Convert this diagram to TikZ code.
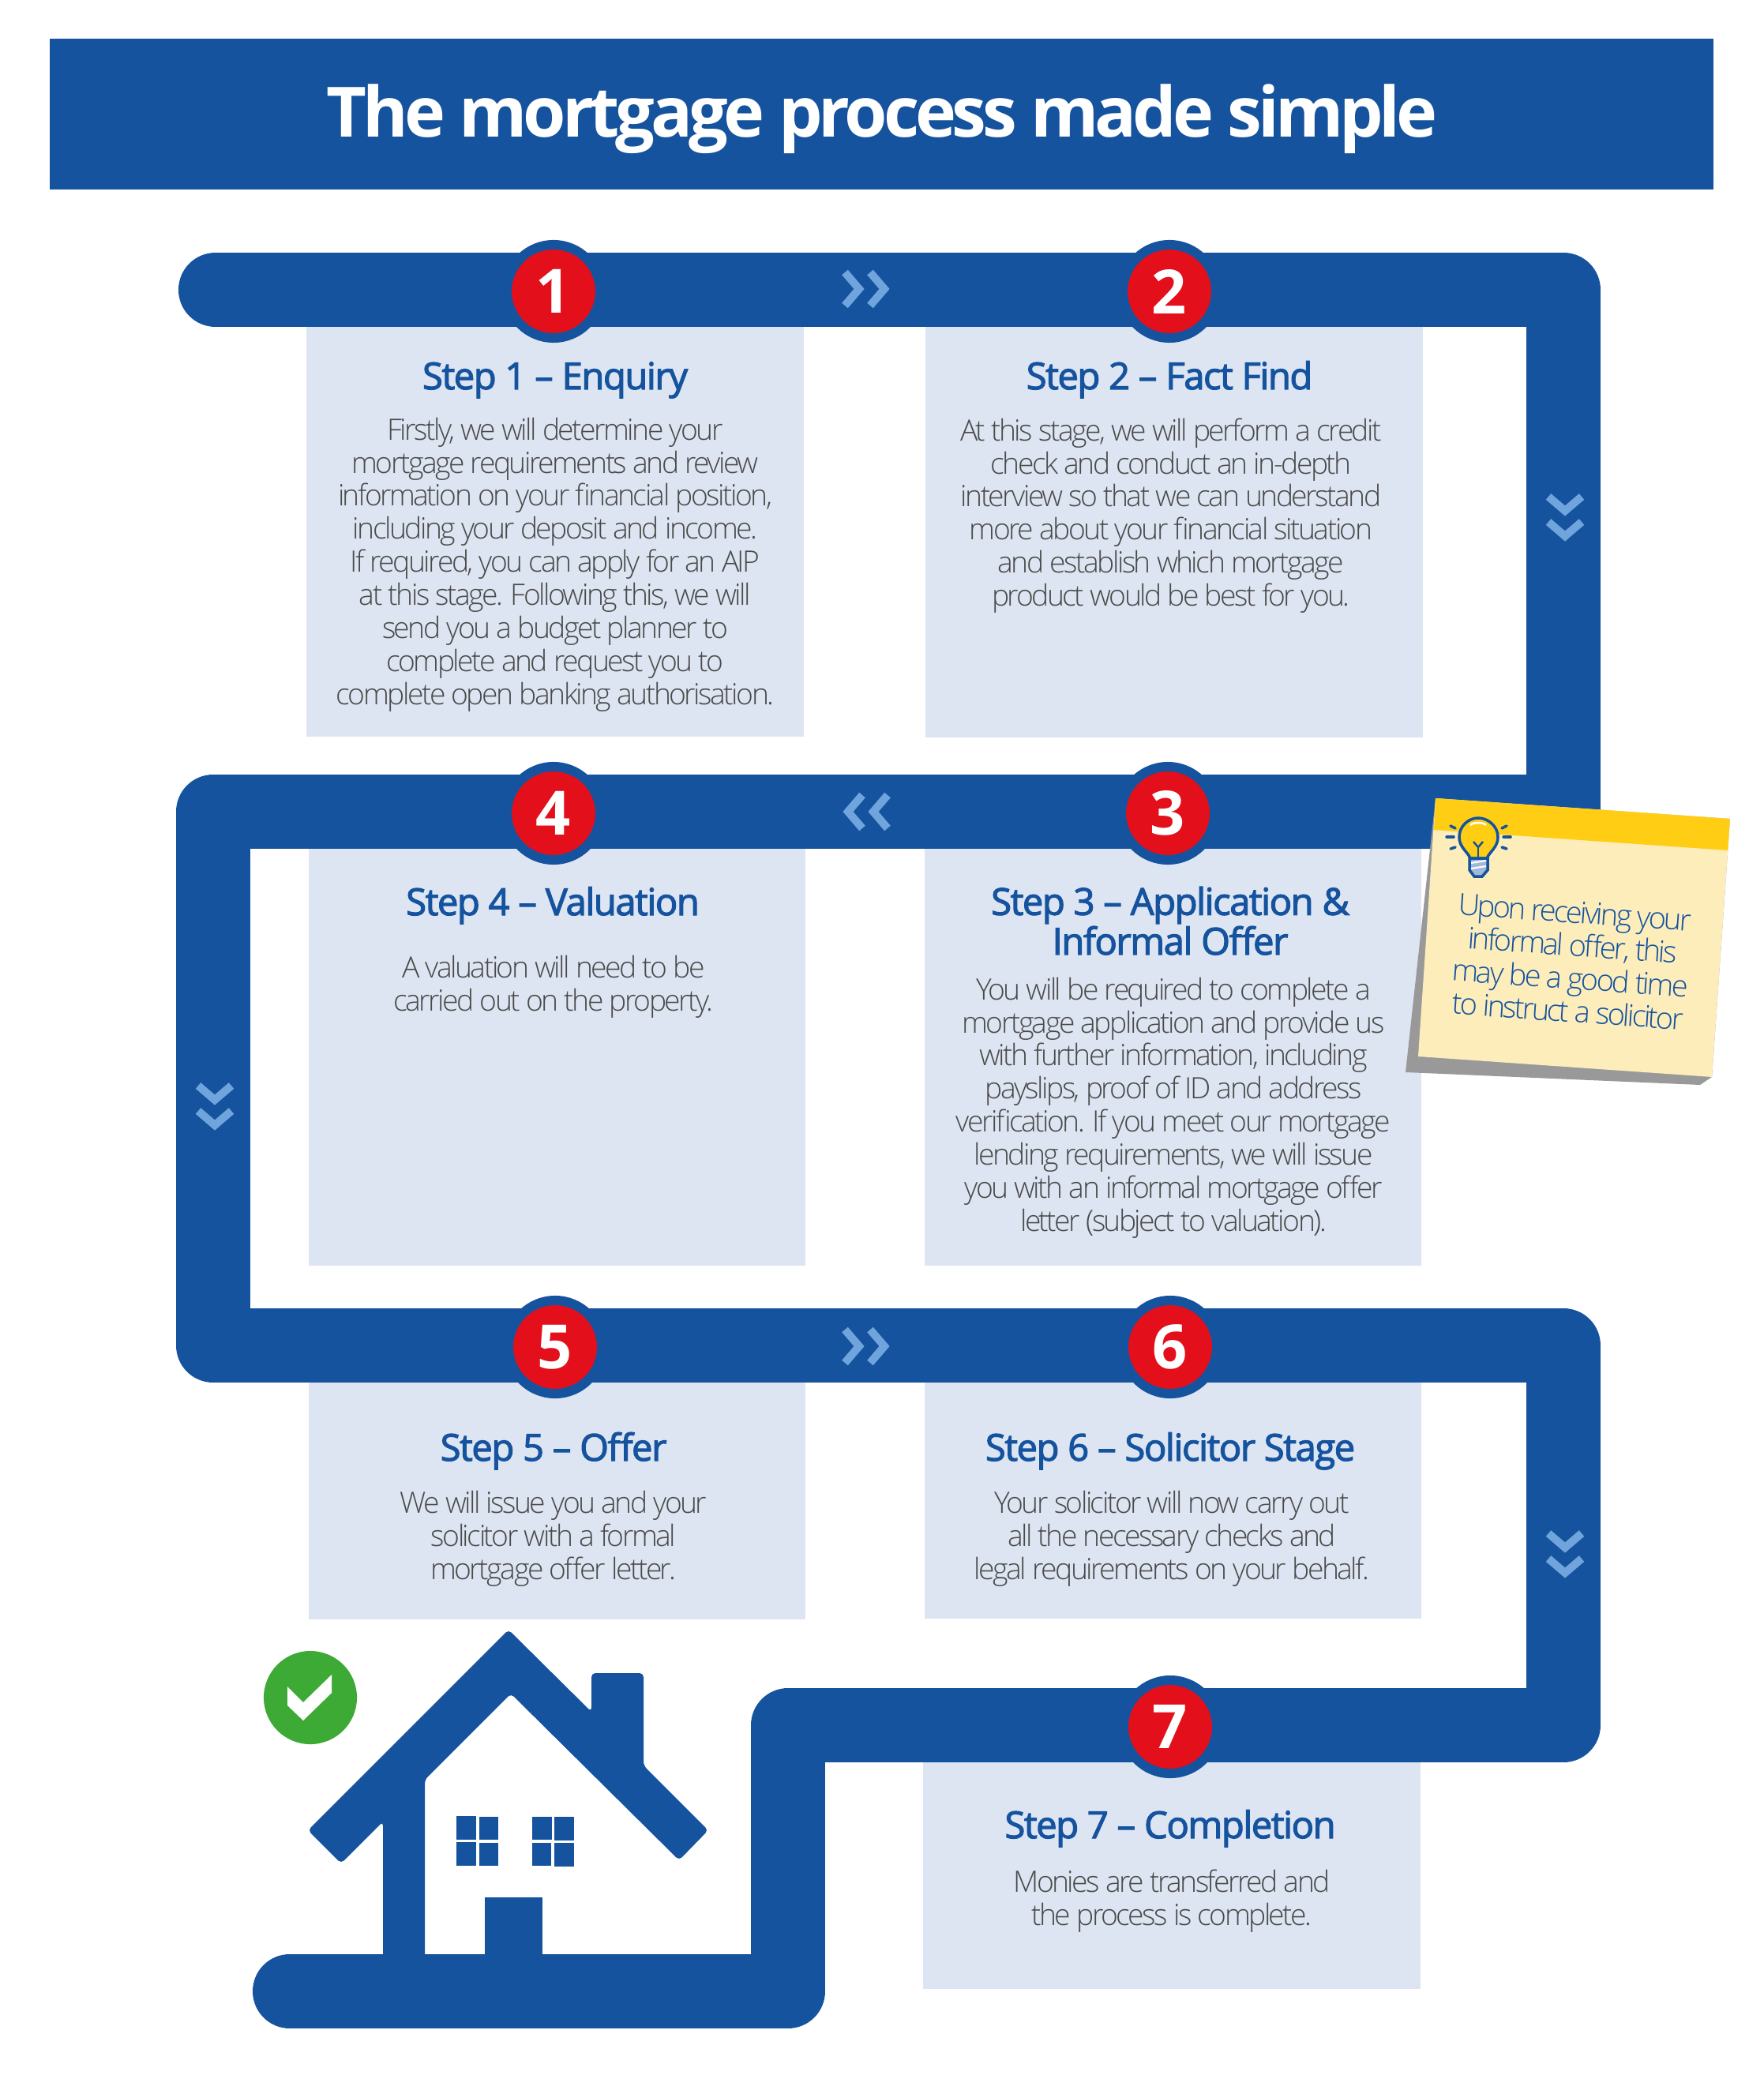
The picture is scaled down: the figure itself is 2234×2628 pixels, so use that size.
\documentclass[tikz,border=0pt]{standalone}
\usepackage{fontspec}
\setmainfont{Open Sans}
\newfontfamily\lightfont[LetterSpace=-6.8]{Open Sans Light}
\newfontfamily\semifont[LetterSpace=-3,FakeBold=2.5]{Open Sans}
\newfontfamily\headfont[LetterSpace=-5.9]{Open Sans}
\newfontfamily\notefont[LetterSpace=-7.6]{Open Sans Light}
\definecolor{mainblue}{HTML}{15539F}
\definecolor{paleblue}{HTML}{DDE5F2}
\definecolor{redcirc}{HTML}{E30F1B}
\definecolor{chevblue}{HTML}{6FA5DC}
\definecolor{bodygrey}{HTML}{4A4A4A}
\definecolor{notecream}{HTML}{FCEDBB}
\definecolor{noteyellow}{HTML}{FFCE14}
\definecolor{tickgreen}{HTML}{3DAA35}
\tikzset{
  x=0.01cm,y=-0.01cm,
  band/.style={line width=0.94cm,mainblue,line cap=round,line join=round},
  numcirc/.style={circle,fill=redcirc,draw=mainblue,line width=0.12cm,minimum size=1.18cm,inner sep=0pt,text=white,font=\bfseries\fontsize{22}{22}\selectfont},
  steptitle/.style={anchor=base,text=mainblue,align=center,inner sep=0pt,font=\semifont\fontsize{13.4}{14.3}\selectfont},
  stepbody/.style={text=bodygrey,align=center,inner sep=0pt,font=\lightfont\fontsize{10.6}{11.9}\selectfont},
  chev/.style={line width=0.1cm,chevblue},
  ray/.style={line width=0.035cm,mainblue,line cap=round}
}
\begin{document}
\begin{tikzpicture}
\useasboundingbox (0,0) rectangle (2234,2628);

\node [fill=mainblue,inner sep=0pt,minimum width=21.05cm,minimum height=1.91cm] (banner) at (1116.5,144.5) {};
\node [anchor=base,text=white,inner sep=0pt,font=\headfont\bfseries\fontsize{25}{25}\selectfont] (bannertext) at (1117,174) {The mortgage process made simple};

\begin{scope}[paleblue]
\fill (388,414) rectangle (1018,933);
\fill (1172,414) rectangle (1802,934);
\fill (391,1075) rectangle (1020,1603);
\fill (1171,1075) rectangle (1800,1603);
\fill (391,1751) rectangle (1020,2051);
\fill (1171,1751) rectangle (1800,2050);
\fill (1169,2232) rectangle (1799,2519);
\end{scope}

\coordinate (p0) at (273,367);
\coordinate (p1) at (1980,367);
\coordinate (p2) at (1980,1028);
\coordinate (p3) at (270,1028);
\coordinate (p4) at (270,1704);
\coordinate (p5) at (1980,1704);
\coordinate (p6) at (1980,2185);
\coordinate (p7) at (998,2185);
\coordinate (p8) at (998,2522);
\coordinate (p9) at (367,2522);
\draw [band] (p0) -- (p1) -- (p2) -- (p3) -- (p4) -- (p5) -- (p6) -- (p7) -- (p8) -- (p9);

\node [numcirc] (n1) at (701,369) {1};
\node [numcirc] (n2) at (1481,369) {2};
\node [numcirc] (n3) at (1479,1030) {3};
\node [numcirc] (n4) at (701,1030) {4};
\node [numcirc] (n5) at (703,1706) {5};
\node [numcirc] (n6) at (1482,1706) {6};
\node [numcirc] (n7) at (1482,2187) {7};

\foreach \cx/\cy/\ca in {1097/366/0,1982/656/-90,1097/1028/180,272/1402/-90,1097/1705/0,1982/1969/-90}{
  \begin{scope}[shift={(\cx,\cy)},rotate=\ca]
  \draw [chev] (-27,-21) -- (-9,0) -- (-27,21);
  \draw [chev] (5,-21) -- (23,0) -- (5,21);
  \end{scope}
}

\node [steptitle] (t1) at (703,493) {Step 1 – Enquiry};
\node [stepbody] (b1) at (703,715) {Firstly, we will determine your\\mortgage requirements and review\\information on your financial position,\\including your deposit and income.\\If required, you can apply for an AIP\\at this stage. Following this, we will\\send you a budget planner to\\complete and request you to\\complete open banking authorisation.};
\node [steptitle] (t2) at (1481,493) {Step 2 – Fact Find};
\node [stepbody] (b2) at (1483,653) {At this stage, we will perform a credit\\check and conduct an in-depth\\interview so that we can understand\\more about your financial situation\\and establish which mortgage\\product would be best for you.};
\node [steptitle] (t3) at (1482,1209) {Step 3 – Application \&\\Informal Offer};
\node [stepbody] (b3) at (1486,1403) {You will be required to complete a\\mortgage application and provide us\\with further information, including\\payslips, proof of ID and address\\verification. If you meet our mortgage\\lending requirements, we will issue\\you with an informal mortgage offer\\letter (subject to valuation).};
\node [steptitle] (t4) at (700,1159) {Step 4 – Valuation};
\node [stepbody] (b4) at (701,1250) {A valuation will need to be\\carried out on the property.};
\node [steptitle] (t5) at (701,1850) {Step 5 – Offer};
\node [stepbody] (b5) at (701,1949) {We will issue you and your\\solicitor with a formal\\mortgage offer letter.};
\node [steptitle] (t6) at (1482,1850) {Step 6 – Solicitor Stage};
\node [stepbody] (b6) at (1484,1949) {Your solicitor will now carry out\\all the necessary checks and\\legal requirements on your behalf.};
\node [steptitle] (t7) at (1482,2328) {Step 7 – Completion};
\node [stepbody] (b7) at (1484,2408) {Monies are transferred and\\the process is complete.};

\fill [black!40] (1818,1011) -- (1780,1358) -- (2153,1374) -- (2168,1364) -- (2191,1037) -- cycle;
\fill [notecream] (1818,1011) -- (2191,1037) -- (2168,1364) -- (1796,1338) -- cycle;
\fill [noteyellow] (1818,1011) -- (2191,1037) -- (2188,1077) -- (1816,1051) -- cycle;
\node [rotate=-4,text=mainblue,align=center,inner sep=0pt,font=\notefont\fontsize{10.8}{11.9}\selectfont] (note) at (1990,1218) {Upon receiving your\\informal offer, this\\may be a good time\\to instruct a solicitor};

\filldraw [noteyellow,draw=mainblue,line width=0.035cm] (1862,1087) .. controls (1858,1078) and (1848,1073) .. (1848,1060) .. controls (1848,1047) and (1859,1036) .. (1872,1036) .. controls (1885,1036) and (1897,1047) .. (1897,1060) .. controls (1897,1073) and (1887,1078) .. (1883,1087) -- cycle;
\filldraw [fill=paleblue!70!mainblue,draw=mainblue,line width=0.035cm] (1861,1087) -- (1884,1087) -- (1884,1102) -- (1877,1110) -- (1867,1110) -- (1861,1102) -- cycle;
\draw [white,line width=0.02cm] (1863,1093) -- (1882,1090);
\draw [white,line width=0.02cm] (1863,1100) -- (1882,1097);
\draw [mainblue,line width=0.025cm] (1866,1066) -- (1872,1073) -- (1878,1066);
\draw [mainblue,line width=0.025cm] (1872,1073) -- (1872,1087);
\draw [white,line width=0.025cm] (1862,1045) .. controls (1866,1041) and (1878,1041) .. (1882,1045);
\draw [ray] (1832,1060) -- (1841,1060);
\draw [ray] (1904,1060) -- (1913,1060);
\draw [ray] (1837,1046) -- (1843,1049);
\draw [ray] (1908,1046) -- (1902,1049);
\draw [ray] (1837,1075) -- (1843,1073);
\draw [ray] (1908,1075) -- (1902,1073);

\begin{scope}[mainblue]
\fill [rounded corners=0.05cm] (485,2480) -- (485,2307) -- (432,2360) -- (390,2318) -- (644,2064) -- (749,2168) -- (749,2119) -- (815,2119) -- (815,2236) -- (897,2318) -- (860,2356) -- (647,2145) -- (538,2254) -- (538,2480) -- cycle;
\fill (578,2300) rectangle (603,2330);
\fill (607,2301) rectangle (631,2330);
\fill (578,2333) rectangle (603,2363);
\fill (607,2334) rectangle (631,2363);
\fill (674,2301) rectangle (699,2330);
\fill (702,2301) rectangle (727,2331);
\fill (674,2334) rectangle (698,2363);
\fill (702,2334) rectangle (727,2364);
\fill (614,2403) rectangle (687,2480);
\end{scope}

\node [circle,fill=tickgreen,minimum size=1.18cm,inner sep=0pt] (tickdisc) at (393,2150) {};
\fill [white] (364,2136) -- (384,2156) -- (420,2121) -- (420,2144) -- (384,2179) -- (364,2160) -- cycle;
\end{tikzpicture}
\end{document}
